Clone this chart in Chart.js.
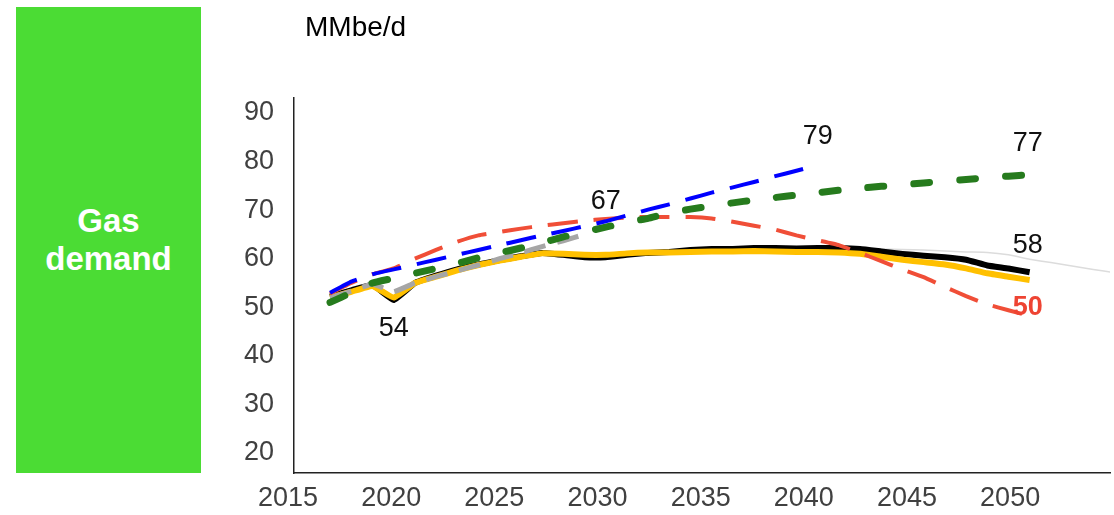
<!DOCTYPE html>
<html>
<head>
<meta charset="utf-8">
<script src="https://cdn.jsdelivr.net/npm/chart.js@4.4.1/dist/chart.umd.min.js"></script>
<style>
  html, body { margin: 0; padding: 0; background: #fff; }
  #wrap { position: relative; width: 1114px; height: 515px; font-family: "Liberation Sans", Arial, sans-serif; }
  #box {
    position: absolute; left: 16px; top: 7px; width: 185px; height: 466px;
    background: #4bdc34; color: #fff; font-weight: bold; font-size: 33px; line-height: 38px;
    display: flex; align-items: center; justify-content: center; text-align: center;
  }
  #unit { position: absolute; left: 305px; top: 11px; font-size: 28px; line-height: 32px; color: #000; }
  canvas { position: absolute; left: 0; top: 0; }
</style>
</head>
<body>
<div id="wrap">
  <canvas id="chart" width="1114" height="515"></canvas>
  <div id="box">Gas<br>demand</div>
  <div id="unit">MMbe/d</div>
</div>
<script>
// years of the data, 2017 .. 2054
const years = [];
for (let y = 2017; y <= 2054; y++) years.push(y);

const xTickYears = [2015, 2020, 2025, 2030, 2035, 2040, 2045, 2050];
const yTicks = [20, 30, 40, 50, 60, 70, 80, 90];

// series values (null = no data that year)
const blackLine = [52.2, 53.5, 54.6, 51.5, 55.0, 56.5, 57.8, 58.8, 59.7, 60.5, 61.2, 60.8, 60.3, 60.3, 60.8, 61.2, 61.4, 61.8, 62.0, 62.0, 62.2, 62.2, 62.1, 62.2, 62.2, 62.0, 61.5, 61.0, 60.6, 60.3, 59.8, 58.6, 58.0, 57.2];
const yellowLine = [52.0, 53.2, 54.4, 52.0, 55.0, 56.3, 57.6, 58.7, 59.6, 60.4, 61.1, 61.0, 60.8, 60.8, 61.1, 61.3, 61.3, 61.4, 61.5, 61.5, 61.6, 61.5, 61.4, 61.4, 61.3, 61.0, 60.4, 59.8, 59.3, 58.8, 58.0, 57.0, 56.3, 55.6];
const grayDashed = [52.0, 53.3, 54.8, 53.2, 55.0, 56.3, 57.5, 58.7, 60.0, 61.2, 62.5, 63.7, 65.0];
const blueDashed = [53.0, 55.3, 56.8, 57.8, 58.8, 59.8, 60.8, 61.8, 62.8, 63.8, 64.8, 65.7, 66.7, 67.7, 68.9, 70.1, 71.2, 72.4, 73.6, 74.7, 75.8, 77.0, 78.1, 79.3];
const redDashed = [52.8, 55.0, 56.8, 58.0, 60.0, 61.8, 63.5, 64.8, 65.5, 66.2, 66.8, 67.3, 67.8, 68.2, 68.5, 68.6, 68.6, 68.6, 68.3, 67.6, 66.8, 66.0, 64.8, 63.8, 62.8, 61.2, 59.5, 57.8, 56.2, 54.2, 52.3, 50.6, 49.4, 48.2];
const greenDashed = [51.0, 53.0, 55.0, 56.0, 57.0, 58.0, 59.0, 60.2, 61.2, 62.2, 63.3, 64.5, 65.5, 66.5, 67.5, 68.3, 69.4, 70.2, 70.9, 71.5, 72.1, 72.6, 73.1, 73.6, 74.1, 74.5, 74.9, 75.2, 75.6, 76.0, 76.3, 76.7, 77.0, 77.3];
const thinGray = [null, null, null, null, null, null, null, null, null, null, null, null, null, null, null, null, null, null, 62.0, 62.1, 62.2, 62.2, 62.2, 62.2, 62.2, 62.1, 62.0, 61.9, 61.8, 61.6, 61.4, 61.3, 60.8, 59.9, 59.2, 58.5, 57.8, 57.1];

function pts(arr) {
  return arr.map((v, i) => ({ x: years[i], y: v }));
}

// value labels: text, series, year, pixel offset
const notes = [
  { text: '79', series: blueDashed, year: 2040, dx: 0, dy: -28, color: '#111', bold: false },
  { text: '77', series: greenDashed, year: 2050, dx: -2, dy: -31, color: '#111', bold: false },
  { text: '67', series: blueDashed, year: 2030, dx: 0, dy: -20, color: '#111', bold: false },
  { text: '58', series: blackLine, year: 2050, dx: -2, dy: -27, color: '#111', bold: false },
  { text: '54', series: yellowLine, year: 2020, dx: 0, dy: 31, color: '#111', bold: false },
  { text: '50', series: redDashed, year: 2050, dx: -2, dy: -8, color: '#ee4433', bold: true }
];

const notePlugin = {
  id: 'notes',
  afterDatasetsDraw(chart) {
    const ctx = chart.ctx;
    const xs = chart.scales.x, ys = chart.scales.y;
    ctx.save();
    ctx.textAlign = 'center';
    ctx.textBaseline = 'middle';
    notes.forEach(n => {
      const v = n.series[years.indexOf(n.year)];
      const px = xs.getPixelForValue(n.year) + n.dx;
      const py = ys.getPixelForValue(v) + n.dy;
      ctx.font = (n.bold ? 'bold ' : '') + '27px "Liberation Sans", Arial, sans-serif';
      ctx.fillStyle = n.color;
      ctx.fillText(n.text, px, py);
    });
    ctx.restore();
  }
};

const tickFont = { family: '"Liberation Sans", Arial, sans-serif', size: 27 };

new Chart(document.getElementById('chart'), {
  type: 'line',
  data: {
    datasets: [
      { data: pts(thinGray), borderColor: '#dcdcdc', borderWidth: 1.5, order: 7 },
      { data: pts(blackLine), borderColor: '#000', borderWidth: 6, order: 6 },
      { data: pts(yellowLine), borderColor: '#ffc000', borderWidth: 6, order: 5 },
      { data: pts(grayDashed), borderColor: '#a6a6a6', borderWidth: 5, borderDash: [22, 12], order: 4 },
      { data: pts(redDashed), borderColor: '#f04e37', borderWidth: 4, borderDash: [30, 16], order: 3 },
      { data: pts(greenDashed), borderColor: '#267b1d', borderWidth: 7, borderDash: [16, 30], borderCapStyle: 'round', order: 2 },
      { data: pts(blueDashed), borderColor: '#0000ff', borderWidth: 4, borderDash: [30, 16], order: 1 }
    ]
  },
  options: {
    responsive: false,
    animation: false,
    devicePixelRatio: 1,
    layout: { padding: { left: 0, right: 4, top: 98, bottom: 0 } },
    elements: { point: { radius: 0 }, line: { tension: 0.1, borderJoinStyle: 'round' } },
    plugins: { legend: { display: false }, tooltip: { enabled: false } },
    scales: {
      x: {
        type: 'linear', min: 2015.3, max: 2053.79, display: false
      },
      xl: {
        type: 'linear', position: 'bottom', min: 2015.29, max: 2054.84,
        grid: { display: false, drawTicks: false },
        border: { display: true, color: '#222', width: 1.5 },
        afterBuildTicks: axis => { axis.ticks = xTickYears.map(v => ({ value: v })); },
        afterFit: axis => { axis.height = 42; },
        ticks: { font: tickFont, color: '#404040', padding: 9, maxRotation: 0, autoSkip: false,
                 callback: v => String(v) }
      },
      y: {
        min: 15.88, max: 93.09,
        grid: { display: false, drawTicks: false },
        border: { display: true, color: '#222', width: 1.5 },
        afterBuildTicks: axis => { axis.ticks = yTicks.map(v => ({ value: v })); },
        afterFit: axis => { axis.width = 294; },
        ticks: { font: tickFont, color: '#404040', padding: 20 }
      }
    }
  },
  plugins: [notePlugin]
});
</script>
</body>
</html>
